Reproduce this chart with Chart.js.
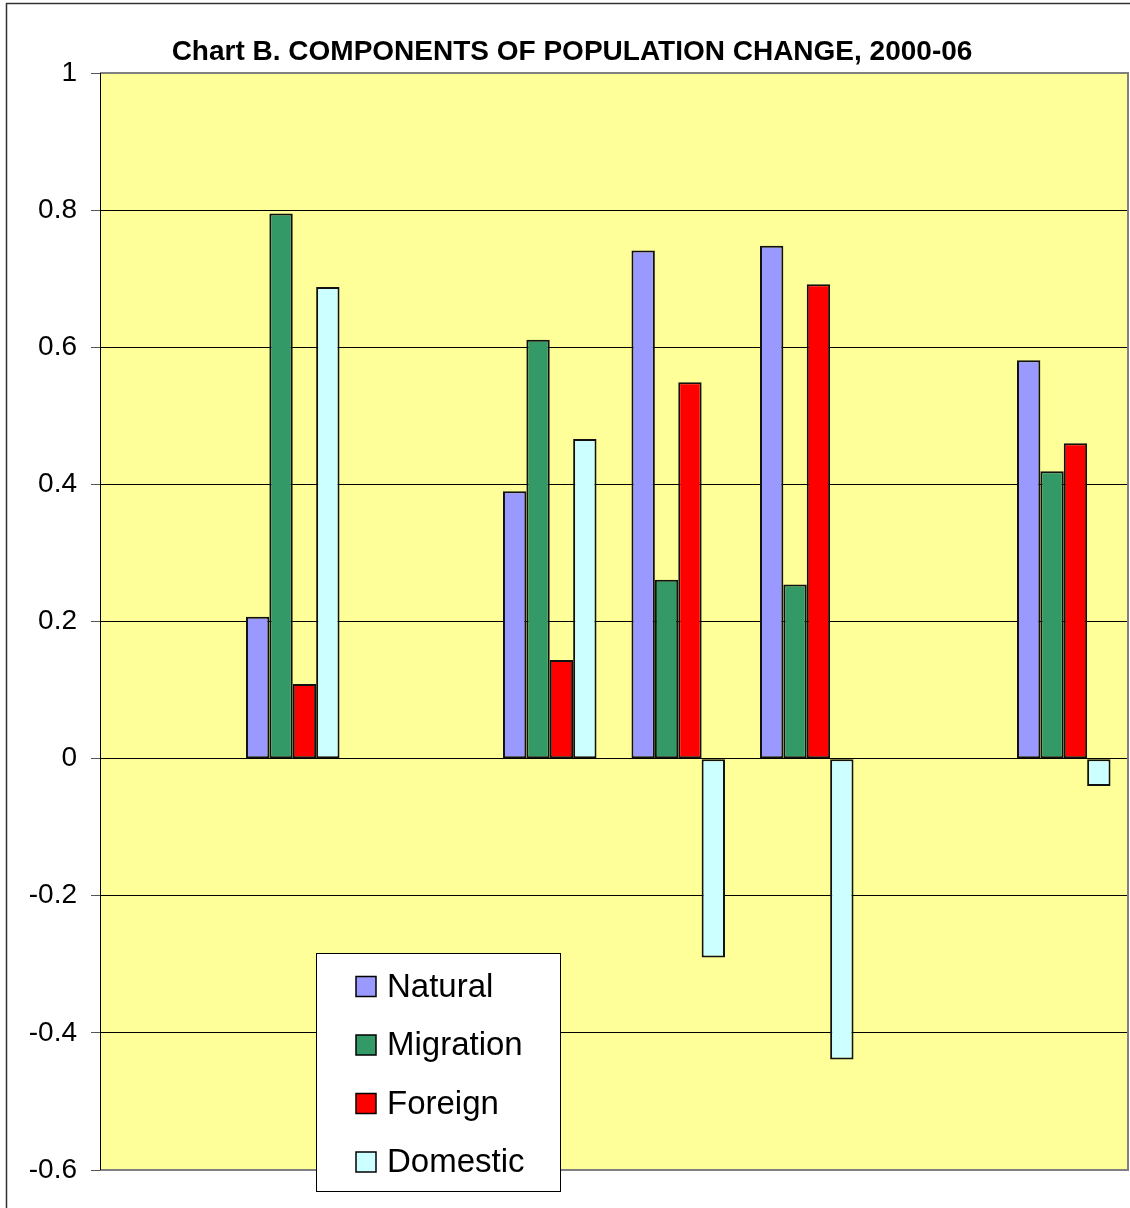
<!DOCTYPE html>
<html>
<head>
<meta charset="utf-8">
<title>Components of Population Change, 2000-06</title>
<script src="https://cdn.jsdelivr.net/npm/chart.js@4/dist/chart.umd.min.js"></script>
<style>
  html, body { margin: 0; padding: 0; background: #ffffff; }
  #wrap { position: relative; width: 1130px; height: 1208px; }
  canvas { display: block; }
</style>
</head>
<body>
<div id="wrap"><canvas id="chart" width="1130" height="1208"></canvas></div>
<script>
// Eight category slots; only five carry data
const categories = ['', '', '', '', '', '', '', ''];

const natural   = [null, 0.207, null, 0.390, 0.741, 0.748, null, 0.581];
const migration = [null, 0.795, null, 0.611, 0.261, 0.254, null, 0.419];
const foreign   = [null, 0.109, null, 0.144, 0.549, 0.692, null, 0.460];
const domestic  = [null, 0.688, null, 0.466, -0.290, -0.439, null, -0.040];

const seriesNames = ['Natural', 'Migration', 'Foreign', 'Domestic'];
const yTicks = [1, 0.8, 0.6, 0.4, 0.2, 0, -0.2, -0.4, -0.6];

const titleText = 'Chart B. COMPONENTS OF POPULATION CHANGE, 2000-06';
const FONT = '"Liberation Sans", Arial, sans-serif';

const colors = ['#9999FF', '#339966', '#FF0000', '#CCFFFF'];

// Frame, plot background, plot border, title and boxed legend
const decor = {
  id: 'decor',
  beforeDraw(chart) {
    const { ctx, chartArea: a } = chart;
    ctx.save();
    ctx.fillStyle = '#ffffff';
    ctx.fillRect(0, 0, chart.width, chart.height);
    ctx.fillStyle = '#FFFF99';
    ctx.fillRect(a.left, a.top, a.right - a.left, a.bottom - a.top);
    ctx.restore();
  },
  afterDraw(chart) {
    const { ctx, chartArea: a } = chart;
    ctx.save();
    // outer frame
    ctx.strokeStyle = '#333333';
    ctx.lineWidth = 1.5;
    ctx.strokeRect(6.5, 3.5, chart.width + 10, chart.height + 10);
    // plot area border
    ctx.strokeStyle = '#808080';
    ctx.lineWidth = 2;
    ctx.beginPath();
    ctx.moveTo(a.left, a.top);
    ctx.lineTo(a.right, a.top);
    ctx.lineTo(a.right, a.bottom);
    ctx.lineTo(a.left, a.bottom);
    ctx.stroke();
    ctx.strokeStyle = '#000000';
    ctx.lineWidth = 1;
    ctx.beginPath();
    ctx.moveTo(a.left + 0.5, a.top);
    ctx.lineTo(a.left + 0.5, a.bottom);
    ctx.stroke();

    // title
    ctx.fillStyle = '#000000';
    ctx.font = 'bold 28px ' + FONT;
    ctx.textAlign = 'center';
    ctx.textBaseline = 'middle';
    ctx.fillText(titleText, 572, 52);

    // legend box
    const lx = 316.5, ly = 953.5, lw = 244, lh = 238;
    ctx.fillStyle = '#ffffff';
    ctx.fillRect(lx, ly, lw, lh);
    ctx.strokeStyle = '#000000';
    ctx.lineWidth = 1;
    ctx.strokeRect(lx, ly, lw, lh);
    const items = chart.data.datasets;
    ctx.font = '33px ' + FONT;
    ctx.textAlign = 'left';
    ctx.textBaseline = 'middle';
    items.forEach((ds, i) => {
      const cy = 986.5 + i * 58.5;
      ctx.fillStyle = ds.backgroundColor;
      ctx.fillRect(356, cy - 10, 20, 20);
      ctx.strokeStyle = '#000000';
      ctx.lineWidth = 1.5;
      ctx.strokeRect(356, cy - 10, 20, 20);
      ctx.fillStyle = '#000000';
      ctx.fillText(ds.label, 387, cy + 1);
    });
    ctx.restore();
  }
};

const datasets = [natural, migration, foreign, domestic].map((vals, i) => ({
  label: seriesNames[i],
  data: vals,
  backgroundColor: colors[i],
  borderColor: '#111111',
  borderWidth: 2,
  borderSkipped: false,
  categoryPercentage: 0.728,
  barPercentage: 1.0
}));

new Chart(document.getElementById('chart'), {
  type: 'bar',
  data: { labels: categories, datasets },
  options: {
    responsive: false,
    animation: false,
    layout: { padding: { left: 0, right: 2, top: 73, bottom: 38 } },
    plugins: {
      legend: { display: false },
      title: { display: false },
      tooltip: { enabled: false }
    },
    scales: {
      x: {
        display: false,
        grid: { display: false }
      },
      y: {
        min: -0.6,
        max: 1,
        afterBuildTicks(scale) {
          scale.ticks = yTicks.map(v => ({ value: v }));
        },
        afterFit(scale) { scale.width = 100; },
        border: { display: false },
        grid: {
          color: '#000000',
          lineWidth: 1,
          tickColor: '#555555',
          tickLength: 9,
          drawTicks: true
        },
        ticks: {
          color: '#000000',
          font: { family: FONT, size: 28 },
          padding: 14,
          callback: v => String(v)
        }
      }
    }
  },
  plugins: [decor]
});
</script>
</body>
</html>
